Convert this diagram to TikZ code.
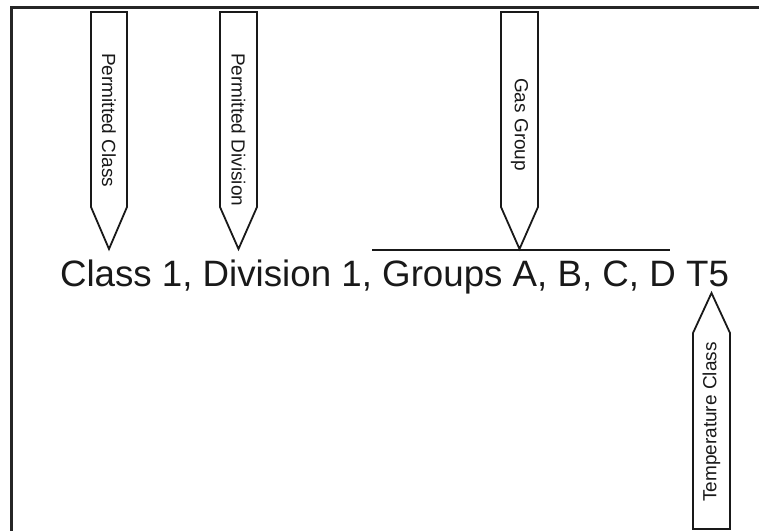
\documentclass[tikz,border=0pt]{standalone}
\usepackage{fontspec}
\setmainfont{Liberation Sans}
\begin{document}
\begin{tikzpicture}[x=1bp,y=-1bp,
  frame/.style={line width=3bp, draw=black!85},
  pencil/.style={line width=1.8bp, draw=black!90, line join=miter},
  lbl/.style={font=\fontsize{19bp}{21bp}\selectfont, inner sep=0pt, text=black!90},
  main/.style={font=\fontsize{36.7bp}{40bp}\selectfont, inner sep=0pt, text=black!90}]
\useasboundingbox (0,0) rectangle (759,531);
% frame
\draw[frame] (11,531) -- (11,8) -- (759,8);
% downward pencils
\draw[pencil] (91,12) -- (127,12) -- (127,207) -- (109,249) -- (91,207) -- cycle;
\draw[pencil] (220,12) -- (257,12) -- (257,207) -- (238.5,249) -- (220,207) -- cycle;
\draw[pencil] (501,12) -- (538,12) -- (538,207) -- (519.5,249) -- (501,207) -- cycle;
% upward pencil
\draw[pencil] (693,529) -- (693,333) -- (711.5,293) -- (730,333) -- (730,529) -- cycle;
% labels
\node[lbl, rotate=-90, anchor=west] (pc) at (109,53) {Permitted Class};
\node[lbl, rotate=-90, anchor=west] (pd) at (238.5,53) {Permitted Division};
\node[lbl, rotate=-90, anchor=west] (gg) at (519.5,78) {Gas Group};
\node[lbl, rotate=90, anchor=west] (tc) at (711.5,502) {Temperature Class};
% main text
\node[main, anchor=base] (mt) at (394.5,287) {Class 1, Division 1, Groups A, B, C, D T5};
% overline
\coordinate (ol1) at (372,250);
\coordinate (ol2) at (670,250);
\draw[line width=1.8bp, draw=black!90] (ol1) -- (ol2);
\end{tikzpicture}
\end{document}
